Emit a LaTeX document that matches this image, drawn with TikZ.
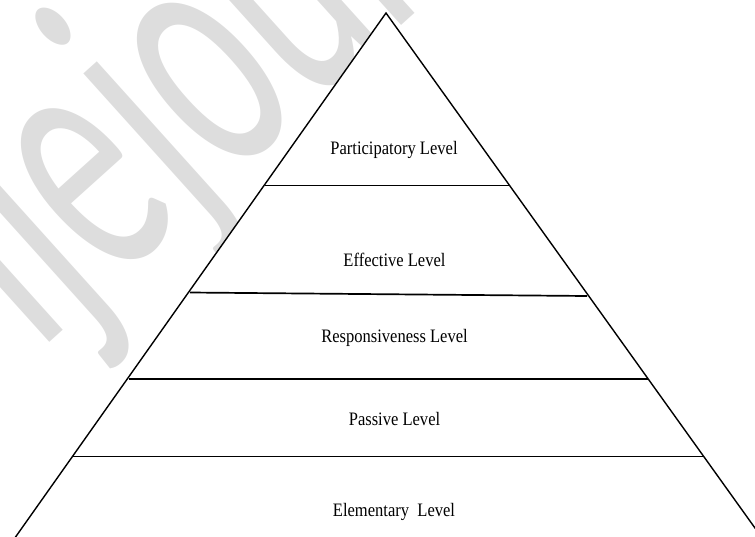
\documentclass[tikz,border=0pt]{standalone}
\usepackage{fontspec}
\setmainfont{Liberation Serif}
\newfontfamily\lvlfont[FakeStretch=0.87]{Liberation Serif}
\newfontfamily\wmfont{Carlito}
\definecolor{wmgray}{RGB}{221,221,221}
\tikzset{
  level/.style={text=black,anchor=base,inner sep=0pt,font=\lvlfont\fontsize{19}{21}\selectfont},
  side/.style={black,line width=1.4pt},
  tier/.style={black,line width=1.7pt},
}
\begin{document}
\begin{tikzpicture}[x=1pt,y=-1pt]
\useasboundingbox (0,0) rectangle (755,536);
\clip (0,0) rectangle (755,536);

% watermark behind the pyramid:
\path (38,353) node[anchor=base west,inner sep=0pt,rotate=42,text=wmgray] (mark)
  {\scalebox{0.57}[1]{\wmfont\fontsize{370}{370}\selectfont ijejournal}};

% pyramid:
\coordinate (apex) at (386,13);
\coordinate (bl) at (12,542);
\coordinate (br) at (765,542);
\fill[white] (apex) -- (bl) -- (br) -- cycle;
\draw[side] (bl) -- (apex) -- (br);

\coordinate (t1l) at (265,185.5);
\coordinate (t1r) at (509,185.5);
\coordinate (t2l) at (190,292.5);
\coordinate (t2r) at (587,296);
\coordinate (t3l) at (129,379);
\coordinate (t3r) at (648,379);
\coordinate (t4l) at (73,456.5);
\coordinate (t4r) at (703,456.5);
\draw[tier] (t1l) -- (t1r);
\draw[tier] (t2l) -- (t2r);
\draw[tier] (t3l) -- (t3r);
\draw[tier] (t4l) -- (t4r);

\path (394,154) node[level] (participatory) {Participatory Level};
\path (394.5,266) node[level] (effective) {Effective Level};
\path (394.5,342) node[level] (responsive) {Responsiveness Level};
\path (394.5,425) node[level] (passive) {Passive Level};
\path (394,516) node[level] (elementary) {Elementary\ \ Level};

\end{tikzpicture}
\end{document}
